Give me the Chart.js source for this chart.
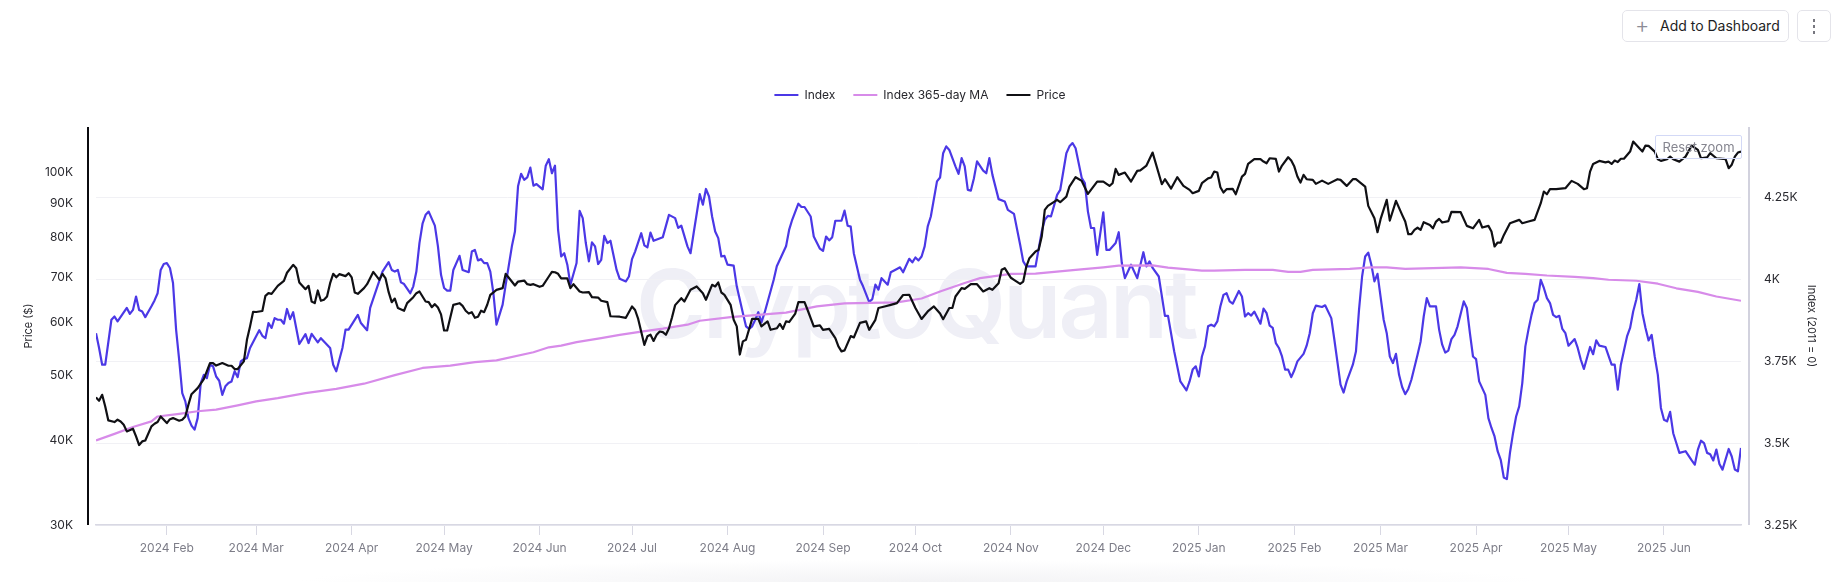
<!DOCTYPE html>
<html>
<head>
<meta charset="utf-8">
<title>Index vs Price</title>
<script src="https://cdn.jsdelivr.net/npm/chart.js@4"></script>
<style>
  html, body { margin: 0; padding: 0; background: #fff; overflow: hidden; }
  body { width: 1834px; height: 582px; position: relative; font-family: Inter, sans-serif; }
  #chart { position: absolute; left: 0; top: 0; z-index: 1; }
  #watermark { position: absolute; left: 636px; top: 246px; font-size: 95px; line-height: 116px; font-weight: 600; color: #efeff6; letter-spacing: -3px; white-space: nowrap; }
  #fade { position: absolute; left: 300px; top: 560px; width: 1240px; height: 22px; background: radial-gradient(ellipse 50% 100% at 50% 100%, #f3f3f5, #fff); }
  .btn { position: absolute; box-sizing: border-box; background: #fff; border: 1px solid #e4e4ea; border-radius: 5px; color: #1e1e24; z-index: 2; }
  #add { left: 1622px; top: 10px; width: 167px; height: 32px; font-size: 14px; line-height: 30px; padding-left: 37px; }
  #add span { position: absolute; left: 12px; top: -1px; color: #8c8c96; font-size: 22px; font-weight: 300; }
  #more { left: 1797px; top: 10px; width: 34px; height: 32px; }
  #more i { position: absolute; left: 15px; width: 2px; height: 3px; background: #77777f; }
  #reset { position: absolute; box-sizing: border-box; left: 1655px; top: 135px; width: 87px; height: 24px; border: 1px solid #d3d9f6; border-radius: 2px; font-size: 13px; line-height: 22px; text-align: center; color: #85858f; z-index: 2; }
</style>
</head>
<body>
<div id="watermark">CryptoQuant</div>
<div id="fade"></div>
<canvas id="chart" width="1834" height="582"></canvas>
<div class="btn" id="add"><span>+</span>Add to Dashboard</div>
<div class="btn" id="more"><i style="top:8px"></i><i style="top:14px"></i><i style="top:20px"></i></div>
<div id="reset">Reset zoom</div>
<script>
// day numbers count from 2024-01-09
const monthDays = [23, 52, 83, 113, 144, 174, 205, 236, 266, 297, 327, 358, 389, 417, 448, 478, 509];
const monthLabels = ['2024 Feb', '2024 Mar', '2024 Apr', '2024 May', '2024 Jun', '2024 Jul', '2024 Aug', '2024 Sep', '2024 Oct', '2024 Nov', '2024 Dec', '2025 Jan', '2025 Feb', '2025 Mar', '2025 Apr', '2025 May', '2025 Jun'];

const priceTicks = [30000, 40000, 50000, 60000, 70000, 80000, 90000, 100000];
const priceTickLabels = ['30K', '40K', '50K', '60K', '70K', '80K', '90K', '100K'];
const indexTicks = [3250, 3500, 3750, 4000, 4250];
const indexTickLabels = ['3.25K', '3.5K', '3.75K', '4K', '4.25K'];

const indexDays = [0,1,2,3,5,6,7,10,11,12,13,14,15,16,18,19,20,21,22,23,24,25,26,27,28,29,30,31,32,33,34,35,36,37,38,39,40,41,42,43,44,45,46,47,48,49,50,53,54,55,56,57,58,59,60,61,62,63,64,66,68,69,70,72,73,76,77,78,80,81,82,85,86,88,89,91,93,95,96,97,98,99,100,102,103,104,105,106,107,108,110,111,112,113,114,115,116,118,119,121,122,123,124,125,126,127,128,129,130,132,133,135,136,137,138,139,140,141,142,143,145,146,147,148,149,150,151,152,153,154,156,157,158,159,160,161,162,163,
  164,165,166,167,169,170,172,173,174,175,177,178,179,180,181,184,186,188,189,190,192,193,194,196,197,198,199,200,201,202,203,204,205,207,208,210,211,212,213,214,215,216,217,220,221,224,225,226,228,229,230,232,233,235,236,237,238,239,240,242,243,244,245,246,248,249,251,252,253,254,255,257,258,260,261,262,264,265,266,267,268,269,270,271,273,274,275,276,277,279,280,281,282,283,284,285,286,288,289,290,291,293,295,296,298,300,301,302,305,307,308,309,310,312,313,315,316,317,318,320,321,322,323,324,325,327,328,329,331,332,333,334,336,338,340,341,342,343,345,347,348,350,352,354,355,356,357,358,359,360,361,362,
  363,364,365,366,367,368,369,371,372,373,374,375,376,378,379,380,381,382,383,384,385,386,387,388,389,390,392,393,394,395,396,398,399,401,402,404,405,406,408,409,410,411,412,413,414,415,416,418,419,420,421,422,423,424,425,426,427,429,430,431,432,433,435,436,437,438,439,440,441,442,444,445,446,447,448,449,451,452,453,454,455,456,457,458,459,460,461,462,463,464,465,466,467,468,469,470,471,472,473,474,475,476,477,478,480,481,482,483,485,486,487,488,490,492,493,494,495,497,498,499,500,501,502,503,504,505,506,507,508,509,510,511,512,513,514,516,518,519,520,521,522,523,524,525,526,527,528,530,531,532,533,534];
const indexValues = [3835,3790,3739,3739,3876,3886,3871,3912,3894,3906,3947,3906,3901,3884,3917,3935,3957,4028,4046,4049,4034,3988,3846,3754,3652,3627,3576,3553,3541,3576,3683,3708,3698,3739,3734,3703,3690,3647,3673,3683,3688,3719,3701,3749,3756,3759,3790,3844,3827,3820,3866,3851,3881,3876,3876,3864,3909,3878,3899,3802,3832,3805,3833,3807,3820,3790,3739,3719,3790,3846,3846,3891,3866,3844,3912,3968,4023,4052,4028,4023,4028,3990,3985,3957,3978,4023,4110,4169,4196,4206,4163,4100,4013,3973,3965,3965,4028,4071,4028,4021,4084,4089,4057,4061,4049,4049,4023,3957,3861,3922,3983,4100,4145,4283,4321,4303,4310,4340,4285,4290,4274,4346,4366,4323,4346,4150,4069,4079,4044,3983,4049,4208,4186,4110,4054,4112,4100,4046,
  4059,4132,4110,4117,4028,4001,3993,4008,4061,4084,4140,4103,4097,4142,4117,4128,4196,4186,4156,4163,4100,4079,4140,4259,4227,4275,4252,4191,4145,4125,4069,4071,4044,4041,3978,3896,3856,3848,3856,3876,3899,3868,3896,3998,4039,4100,4150,4181,4230,4220,4220,4191,4130,4093,4086,4130,4118,4128,4178,4178,4209,4163,4160,4079,3998,3978,3930,3939,3983,3968,4003,3983,4021,4031,4036,4021,4062,4051,4066,4057,4069,4100,4161,4191,4298,4310,4384,4405,4394,4344,4321,4369,4344,4272,4270,4308,4359,4331,4323,4369,4318,4244,4237,4211,4199,4105,4054,4039,4039,4145,4181,4193,4191,4257,4272,4384,4405,4415,4399,4308,4293,4206,4156,4156,4074,4204,4089,4089,4110,4143,4049,4003,4044,4003,4082,4039,4054,4034,4008,3888,3888,3780,3688,3661,3688,3724,3734,3703,3764,3795,3856,3861,
  3856,3871,3917,3952,3957,3932,3925,3964,3947,3886,3896,3889,3901,3864,3910,3896,3858,3851,3805,3790,3764,3724,3724,3701,3722,3749,3772,3797,3835,3896,3919,3915,3920,3881,3815,3678,3654,3688,3739,3779,3906,4008,4069,4081,4044,3993,4016,3876,3835,3764,3744,3772,3708,3671,3649,3665,3693,3769,3810,3886,3942,3917,3917,3846,3800,3776,3782,3817,3830,3856,3932,3912,3835,3764,3756,3688,3647,3576,3546,3520,3475,3449,3395,3390,3470,3530,3581,3612,3683,3795,3846,3891,3927,3937,3998,3973,3942,3927,3891,3884,3888,3848,3835,3797,3817,3790,3754,3726,3793,3771,3813,3797,3793,3739,3739,3663,3739,3825,3851,3901,3937,3985,3896,3851,3813,3830,3764,3708,3607,3571,3566,3595,3530,3500,3470,3475,3447,3434,3480,3507,3500,3470,3466,3447,3480,3436,3419,3482,3459,3419,3414,3485];

const maDays = [0,6,12,18,20,27,33,39,46,52,59,68,78,87,97,106,115,123,130,142,147,151,156,164,170,177,184,192,196,206,215,224,234,243,260,268,274,282,287,297,305,318,327,332,343,348,359,363,373,382,387,391,395,407,414,419,425,431,443,452,458,464,471,480,486,491,500,507,513,520,526,534];
const maValues = [3508,3528,3549,3566,3581,3589,3597,3602,3615,3627,3637,3652,3665,3681,3707,3729,3736,3747,3752,3777,3792,3797,3808,3820,3830,3840,3849,3861,3873,3884,3891,3898,3917,3926,3929,3941,3962,3988,4003,4016,4017,4028,4036,4041,4042,4035,4026,4026,4028,4028,4022,4022,4028,4031,4036,4036,4031,4033,4036,4031,4019,4016,4011,4007,4003,3998,3995,3986,3972,3961,3947,3934];

const priceDays = [0,1,2,3,4,6,7,8,9,10,12,13,14,15,16,18,19,20,21,23,24,25,27,28,29,30,31,33,35,37,38,39,41,43,44,45,46,48,49,50,51,52,54,55,56,57,59,61,62,64,65,66,68,69,70,71,72,73,74,75,76,77,78,79,81,82,83,84,85,87,88,90,92,93,94,95,96,97,98,100,101,103,104,105,107,108,109,110,111,112,113,114,116,118,119,120,121,122,123,124,125,126,127,128,129,130,132,133,134,136,137,139,140,141,142,144,145,147,148,149,150,151,153,154,155,157,158,160,161,163,
  164,166,167,170,172,174,175,176,178,179,180,181,182,183,184,185,186,187,188,190,191,193,195,197,198,200,201,202,203,204,206,207,208,209,210,211,213,215,216,218,219,221,222,223,224,225,227,228,230,231,233,235,236,238,240,241,242,243,245,246,248,250,251,253,254,256,258,260,262,264,266,268,270,272,274,275,277,278,279,281,282,284,286,288,290,291,293,294,295,297,298,300,301,302,303,305,306,307,308,309,310,312,313,315,316,318,320,322,325,327,329,330,331,332,334,336,338,339,341,343,346,347,349,351,353,355,356,358,359,361,362,
  363,364,365,366,367,369,370,372,373,374,376,378,379,380,381,383,384,385,387,388,389,390,391,392,393,395,396,398,400,403,404,406,408,409,412,413,415,416,417,419,420,422,424,425,426,427,428,429,430,431,433,434,435,436,437,439,440,443,445,447,449,450,452,453,454,455,456,457,459,462,463,465,467,469,470,471,472,474,477,479,481,483,484,485,486,488,490,491,492,493,494,495,496,498,499,501,502,503,504,506,507,508,510,511,512,514,516,518,520,521,523,524,526,529,530,531,532,533,534];
const priceValues = [46390,45860,46800,44980,42880,42640,42980,42730,42250,41300,41680,40600,39420,39910,40030,42010,42390,42640,43470,42490,43060,43220,42830,42980,43470,45230,46900,47880,49370,52150,52150,51720,52150,51680,51680,51100,51100,52450,56470,59100,62150,62090,62300,65620,66220,66070,67900,69080,71000,72950,72120,68680,67130,67900,64360,64000,66830,64520,64740,65470,68520,70740,69900,70660,70180,70900,69890,66370,66070,67360,68280,71210,69310,70740,69630,66450,64210,65010,62950,62360,64000,65320,66220,66600,64360,64210,63120,63780,63040,61590,58290,58290,63630,63990,63400,62360,61770,62060,60870,61080,62360,62060,63650,65850,66370,66980,67360,70740,69790,67980,68900,69130,68280,68130,68280,67670,67900,70100,71210,71120,70740,69630,69630,67360,68280,66600,66370,66450,65320,65240,
  64520,64210,61200,61100,60870,63280,62520,60640,55510,57150,57450,56250,57450,58090,57960,57450,58740,61000,63570,65100,64360,66980,67750,66220,64740,68130,67750,68680,66370,65850,63630,60460,59120,53700,56170,56470,60640,60640,59120,60130,58430,58740,59630,58600,60130,60000,61770,64210,64210,62520,59120,59320,58430,58600,56790,55200,54280,54460,57190,56920,59830,60130,58430,60460,62950,63280,63630,64000,65800,65850,62950,60640,62210,63280,61770,60590,62950,62950,65470,67360,67200,68280,68280,66600,67360,66980,68520,71710,72120,69790,69310,68360,68900,72530,74630,76350,76780,80350,88010,89220,89830,91060,90340,92100,95310,98390,97160,92940,96940,96940,95520,96390,101220,99180,99970,96940,100540,100700,102380,107030,96060,97720,94650,98400,95520,94230,93150,93900,96390,98000,98320,
  100310,99970,95090,93370,94450,94560,92840,98620,99510,102970,104630,104630,103790,103200,104980,104740,100310,102380,105330,104160,102030,98620,96610,99180,97720,97490,96180,97260,96180,97720,97490,95520,97720,97720,95310,89220,85540,81550,85250,91070,84860,90760,86520,84570,80990,80990,82200,82800,82200,84380,83580,82630,84570,85340,84280,84680,87410,87310,83330,82630,85060,82860,83330,81730,77660,78720,78720,80720,84090,85060,84090,84570,85060,90030,93700,92840,94450,94450,94770,97170,96180,94450,94770,100300,102970,104030,103510,103770,102970,104160,103600,104800,104800,107400,111130,108600,107400,109620,109500,107400,104630,104030,104630,105570,104630,103770,105560,109620,108000,104980,105320,106800,104980,104630,101460,102700,105560,107030,107400];

const toPoints = (days, values) => days.map((d, i) => ({ x: d, y: values[i] }));

const tickFont = { family: 'Inter', size: 12 };

// axis lines sit a few px off the plot, Chart.js can't do this on its own
const sideAxes = {
    id: 'sideAxes',
    afterDraw(chart) {
        const { ctx, chartArea } = chart;
        ctx.save();
        ctx.lineWidth = 2;
        ctx.strokeStyle = '#0b0b0f';
        ctx.beginPath();
        ctx.moveTo(chartArea.left - 8, chartArea.top);
        ctx.lineTo(chartArea.left - 8, chartArea.bottom);
        ctx.stroke();
        ctx.strokeStyle = '#d2d2de';
        ctx.beginPath();
        ctx.moveTo(chartArea.right + 8, chartArea.top);
        ctx.lineTo(chartArea.right + 8, chartArea.bottom);
        ctx.stroke();
        ctx.restore();
    }
};

// keeps the gap under the legend
const legendGap = {
    id: 'legendGap',
    beforeInit(chart) {
        const fit = chart.legend.fit;
        chart.legend.fit = function () {
            fit.call(this);
            this.height = 56;
        };
    }
};

new Chart(document.getElementById('chart'), {
    type: 'line',
    data: {
        datasets: [
            { label: 'Index', data: toPoints(indexDays, indexValues), yAxisID: 'y2', borderColor: '#4b38e6', backgroundColor: '#4b38e6', order: 3 },
            { label: 'Index 365-day MA', data: toPoints(maDays, maValues), yAxisID: 'y2', borderColor: '#d78be9', backgroundColor: '#d78be9', order: 2 },
            { label: 'Price', data: toPoints(priceDays, priceValues), yAxisID: 'y', borderColor: '#101014', backgroundColor: '#101014', order: 1 }
        ]
    },
    options: {
        responsive: false,
        animation: false,
        parsing: false,
        normalized: true,
        layout: { padding: { left: 6, top: 71 } },
        elements: {
            point: { radius: 0 },
            line: { borderWidth: 2.2, tension: 0, borderJoinStyle: 'round' }
        },
        plugins: {
            tooltip: { enabled: false },
            legend: {
                position: 'top',
                labels: {
                    boxWidth: 24,
                    boxHeight: 2,
                    padding: 18,
                    color: '#26262c',
                    font: tickFont,
                    sort: (a, b) => a.datasetIndex - b.datasetIndex,
                    generateLabels(chart) {
                        return Chart.defaults.plugins.legend.labels.generateLabels(chart).map(item => ({ ...item, lineWidth: 0 }));
                    }
                }
            }
        },
        scales: {
            x: {
                type: 'linear',
                min: 0,
                max: 534,
                afterBuildTicks(scale) { scale.ticks = monthDays.map(value => ({ value })); },
                afterFit(scale) { scale.height = 57; },
                ticks: {
                    autoSkip: false,
                    maxRotation: 0,
                    padding: 6,
                    color: '#7d7d88',
                    font: tickFont,
                    callback: (value) => monthLabels[monthDays.indexOf(value)]
                },
                grid: { drawOnChartArea: false, color: '#d8d8e3', tickLength: 10 },
                border: { color: '#d8d8e3', width: 1.5 }
            },
            y: {
                type: 'logarithmic',
                position: 'left',
                min: 30000,
                max: 116800,
                afterBuildTicks(scale) { scale.ticks = priceTicks.map(value => ({ value })); },
                afterFit(scale) { scale.width = 90; },
                ticks: {
                    autoSkip: false,
                    padding: 23,
                    color: '#2a2a30',
                    font: tickFont,
                    callback: (value) => priceTickLabels[priceTicks.indexOf(value)]
                },
                title: { display: true, text: 'Price ($)', color: '#2a2a30', font: { family: 'Inter', size: 11 }, padding: 16 },
                grid: { display: false, drawTicks: false },
                border: { display: false }
            },
            y2: {
                type: 'linear',
                position: 'right',
                min: 3250,
                max: 4464,
                afterBuildTicks(scale) { scale.ticks = indexTicks.map(value => ({ value })); },
                afterFit(scale) { scale.width = 93; },
                ticks: {
                    autoSkip: false,
                    padding: 23,
                    color: '#2a2a30',
                    font: tickFont,
                    callback: (value) => indexTickLabels[indexTicks.indexOf(value)]
                },
                title: { display: true, text: 'Index (2011 = 0)', color: '#2a2a30', font: { family: 'Inter', size: 11 }, padding: 16 },
                grid: { color: '#f1f1f5', drawTicks: false },
                border: { display: false }
            }
        }
    },
    plugins: [sideAxes, legendGap]
});
</script>
</body>
</html>
